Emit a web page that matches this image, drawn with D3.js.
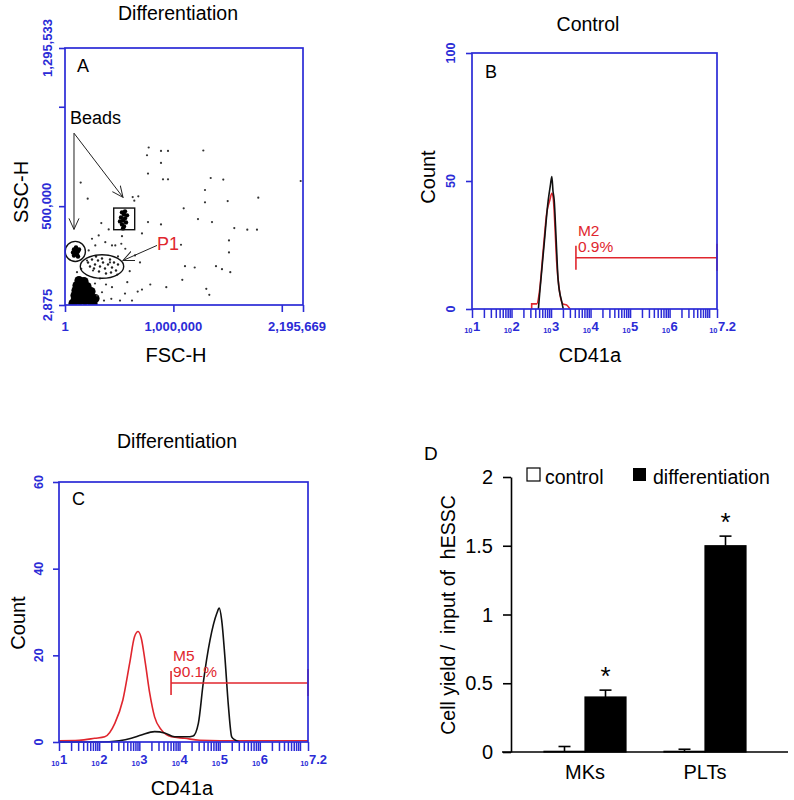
<!DOCTYPE html>
<html><head><meta charset="utf-8">
<script src="https://cdn.jsdelivr.net/npm/d3@7"></script>
<style>body{margin:0;background:#fff} text{font-family:"Liberation Sans",Arial,sans-serif}</style>
</head><body><svg id="c" width="794" height="800"></svg>
<script>
// ---------------- DATA ----------------
// Panel A: FSC-H / SSC-H scatter (data units)
const fscTicks = [1, 1000000, 2000000, 2195669];
const fscTickLabels = ["1", "1,000,000", "", "2,195,669"];
const sscTicks = [2875, 500000, 1000000, 1295533];
const sscTickLabels = ["2,875", "500,000", "", "1,295,533"];
const sparseEvents = [
 [1276000,780000],[1344100,641700],[1460300,633700],[1291500,581200],[1291500,519200],[1500900,525800],
 [1783200,542900],[1095000,489000],[1226900,435000],[1356100,419900],[1561800,389700],[1681700,381600],
 [1771200,381600],[1512900,327700],[1512900,267200],[1070100,306000],[1107000,198100],[1393000,198100],
 [1448300,183000],[1524900,167900],[1082100,129600],[1303500,84200],[1331200,53900],[2174300,626600],
 [772100,795000],[756500,756200],[885600,777800],[950200,777800],[885600,717300],[765700,663900],
 [904100,635200],[950200,635200],[144800,618500],[209400,537900],[624500,545900],[676200,549500],
 [639300,527800],[765700,419900],[885600,408300],[710300,363000],[334900,414900],[403100,383100],
 [1196500,191600],[934500,92300],[786900,105900],[710300,80700],[670700,70600],[574700,117500],
 [482500,156300],[596900,172900],[433600,92300],[427100,33800],[341300,67000],[279500,302500],
 [310900,352900],[371800,319100],[433600,302500],[464000,302500],[519400,311000],[556300,285800],
 [525800,349300],[249100,336200],[218600,277300],[203000,226800],[150400,185000],[110700,167900],
 [276800,110900],[322900,136100],[378200,105900],[295200,50400],[507400,25200],[553500,60500],
 [618100,25200],[359800,25200],[258300,176400],[415100,216800],[645800,252100],[691900,216800],[488900,247000]
];
const p1Events = [
 [212200,216800],[249100,231900],[276800,206700],[304400,226800],[322900,196600],[350600,216800],
 [369000,186500],[396700,206700],[415100,231900],[433600,191600],[452000,216800],[470500,176400],
 [313700,171400],[267500,186500],[378200,161300],[488900,206700],[230600,196600],[424400,166400],
 [341300,236900],[286000,247000]
];
const smallBeadEvents = [
 [83000,282300],[101500,277300],[119900,272200],[92300,262100],[110700,257100],[73800,267200],
 [129200,282300],[101500,292400],[83000,252100],[119900,247000]
];
const largeBeadEvents = [
 [525800,468800],[544300,458700],[516600,443600],[553500,438600],[535100,428500],[562700,418400],
 [525800,408300],[544300,398200],[572000,453700],[507400,423400],[553500,473900],[535100,388200]
];
const debrisEvents = [
 [92300,25200],[138400,25200],[184500,25200],[230600,25200],[92300,50400],[138400,50400],[184500,50400],
 [230600,45400],[101500,75600],[147600,75600],[193700,75600],[239900,70600],[110700,100800],[156800,100800],
 [203000,95800],[129200,126000],[175300,121000],[73800,10100],[258300,10100],[276800,35300]
];
// gates: circle [cx, cy, r], rect [x0,y0,x1,y1], ellipse [cx,cy,rx,ry]
const beadCircleGate = [95000, 272200, 93000];
const beadRectGate = [449300, 381600, 643000, 490500];
const p1EllipseGate = [341300, 196600, 200200, 59000];
const beadsLabel = ["Beads", 46000, 912400];
const beadsArrowFrom = [83000, 867100];
const beadsArrowTo = [[83000, 383100], [535100, 544400]];
const p1Label = ["P1", 848700, 277300];
const p1Arrow = [[848700, 302500], [535100, 226800]];

// Panels B & C: histograms, x = log10(CD41a intensity), y = count
const logExponents = [1, 2, 3, 4, 5, 6, 7.2];
const controlCountTicks = [0, 50, 100];
const diffCountTicks = [0, 20, 40, 60];
const controlIsotype = [[2.51,0],[2.51,2],[2.64,2],[2.70,6],[2.81,24.3],[2.89,37.4],[2.97,42.6],[3.02,45.2],[3.06,42.6],[3.10,32],[3.14,19],[3.21,7.4],[3.30,2],[3.40,1.5],[3.48,0]];
const controlStained = [[2.68,0],[2.72,7.4],[2.82,24.3],[2.93,42.6],[2.98,48],[3.02,51.7],[3.05,46],[3.08,42.6],[3.13,27],[3.18,11.3],[3.27,2.9],[3.31,0]];
const diffIsotype = [[1.0,0.3],[1.5,0.4],[1.89,0.85],[2.14,1.2],[2.39,4.3],[2.59,9.7],[2.76,18.2],[2.88,24.3],[2.97,25.5],[3.05,23.9],[3.15,18.2],[3.26,11.2],[3.38,5.8],[3.55,2.8],[3.80,1.2],[4.13,0.85],[4.5,0.4],[5.0,0.3],[6.0,0.3],[7.2,0.3]];
const diffStained = [[1.0,0],[2.0,0],[2.5,0.3],[2.80,0.85],[3.05,1.6],[3.38,2.4],[3.63,2.1],[3.88,1.2],[4.18,1.2],[4.34,1.4],[4.47,4.3],[4.59,13.5],[4.76,23.5],[4.93,29.7],[4.99,30.9],[5.05,28.2],[5.13,19.7],[5.22,8.1],[5.30,1.2],[5.38,0.5],[5.5,0]];
const controlMarker = ["M2", "0.9%", 3.63, 7.2, 20];
const diffMarker = ["M5", "90.1%", 3.79, 7.2, 13.6];

// Panel D: bar chart
const barCategories = ["MKs", "PLTs"];
const barSeries = ["control", "differentiation"];
const controlValues = [0.005, 0.005];
const controlErrors = [0.035, 0.015];
const differentiationValues = [0.40, 1.50];
const differentiationErrors = [0.05, 0.07];
const yieldTicks = [0, 0.5, 1, 1.5, 2];

// ---------------- DRAW ----------------
const svg = d3.select("#c");
const BLUE = "#2b2bd6", RED = "#e0262e";

function txt(x, y, s, size, opts = {}) {
  const t = svg.append("text").attr("x", x).attr("y", y).text(s)
    .attr("font-size", size).attr("fill", opts.fill || "#000")
    .attr("text-anchor", opts.anchor || "start");
  if (opts.bold) t.attr("font-weight", "bold");
  if (opts.rot) t.attr("transform", `rotate(-90,${x},${y})`);
  if (opts.db) t.attr("dominant-baseline", opts.db);
  return t;
}
function frame(x, y) {
  svg.append("rect").attr("x", x.range()[0]).attr("y", y.range()[1])
    .attr("width", x.range()[1] - x.range()[0]).attr("height", y.range()[0] - y.range()[1])
    .attr("fill", "none").attr("stroke", BLUE).attr("stroke-width", 1.7);
}
function leftTicks(y, x0, vals, labels, labelX, size) {
  const g = svg.append("g").attr("transform", `translate(${x0},0)`);
  g.call(d3.axisLeft(y).tickValues(vals).tickFormat("").tickSize(6).tickSizeOuter(0));
  g.select(".domain").remove();
  g.selectAll(".tick line").attr("stroke", BLUE).attr("stroke-width", 1.6);
  vals.forEach((v, i) => { if (labels[i] !== "") txt(labelX, y(v), labels[i], size, {fill: BLUE, bold: true, anchor: "middle", rot: true, db: "central"}); });
}
function logAxis(x, y0) {
  const g = svg.append("g").attr("transform", `translate(0,${y0})`);
  const tv = x.ticks().concat([x.domain()[1]]);
  g.call(d3.axisBottom(x).tickValues(tv).tickFormat("").tickSize(9).tickSizeOuter(0));
  g.select(".domain").remove();
  g.selectAll(".tick line").attr("stroke", BLUE).attr("stroke-width", 1.5);
  logExponents.forEach(e => {
    const px = x(Math.pow(10, e));
    txt(px + 0.5, y0 + 24, "10", 7.5, {fill: BLUE, bold: true, anchor: "end"});
    txt(px + 1, y0 + 22, String(e), 13, {fill: BLUE, bold: true});
  });
}
function marker(x, y, m) {
  const [n1, n2, e0, e1, c] = m;
  const xa = x(Math.pow(10, e0)), xb = x(Math.pow(10, e1)), yy = y(c);
  const g = svg.append("g").attr("stroke", RED).attr("stroke-width", 1.6);
  g.append("line").attr("x1", xa).attr("x2", xb).attr("y1", yy).attr("y2", yy);
  g.append("line").attr("x1", xa).attr("x2", xa).attr("y1", yy - 12).attr("y2", yy + 12);
  g.append("line").attr("x1", xb).attr("x2", xb).attr("y1", yy - 14).attr("y2", yy + 13);
  txt(xa + 2, yy - 22, n1, 15.5, {fill: RED});
  txt(xa + 2, yy - 6, n2, 15.5, {fill: RED});
}
function hist(x, y, data, color) {
  const line = d3.line().x(d => x(Math.pow(10, d[0]))).y(d => y(d[1])).curve(d3.curveMonotoneX);
  svg.append("path").datum(data).attr("d", line).attr("fill", "none").attr("stroke", color).attr("stroke-width", 1.6);
}

// ---- Panel A ----
const xA = d3.scaleLinear().domain([1, 2195669]).range([65, 303]);
const yA = d3.scaleLinear().domain([2875, 1295533]).range([305, 48]);
svg.append("defs").append("clipPath").attr("id", "clipA").append("rect")
  .attr("x", 65).attr("y", 48).attr("width", 238).attr("height", 257);
svg.select("defs").append("marker").attr("id", "arr").attr("viewBox", "0 0 12 12")
  .attr("refX", 11).attr("refY", 6).attr("markerWidth", 12).attr("markerHeight", 12)
  .attr("markerUnits", "userSpaceOnUse").attr("orient", "auto")
  .append("path").attr("d", "M0,1 L11,6 L0,11").attr("fill", "none").attr("stroke", "#222").attr("stroke-width", 1);
txt(178, 20, "Differentiation", 19.5, {anchor: "middle"});
const gA = svg.append("g").attr("clip-path", "url(#clipA)");
gA.selectAll(".deb").data(debrisEvents).join("circle").attr("cx", d => xA(d[0])).attr("cy", d => yA(d[1])).attr("r", 4.6).attr("fill", "#000");
gA.selectAll(".sp").data(sparseEvents).join("circle").attr("cx", d => xA(d[0])).attr("cy", d => yA(d[1])).attr("r", 1.1).attr("fill", "#333");
gA.selectAll(".p1").data(p1Events).join("circle").attr("cx", d => xA(d[0])).attr("cy", d => yA(d[1])).attr("r", 1.2).attr("fill", "#222");
gA.selectAll(".sb").data(smallBeadEvents).join("circle").attr("cx", d => xA(d[0])).attr("cy", d => yA(d[1])).attr("r", 2.2).attr("fill", "#000");
gA.selectAll(".lb").data(largeBeadEvents).join("circle").attr("cx", d => xA(d[0])).attr("cy", d => yA(d[1])).attr("r", 2.2).attr("fill", "#000");
// gates
svg.append("circle").attr("cx", xA(beadCircleGate[0])).attr("cy", yA(beadCircleGate[1]))
  .attr("r", xA(beadCircleGate[2]) - xA(0)).attr("fill", "none").attr("stroke", "#111").attr("stroke-width", 1.4);
svg.append("rect").attr("x", xA(beadRectGate[0])).attr("y", yA(beadRectGate[3]))
  .attr("width", xA(beadRectGate[2]) - xA(beadRectGate[0])).attr("height", yA(beadRectGate[1]) - yA(beadRectGate[3]))
  .attr("fill", "none").attr("stroke", "#111").attr("stroke-width", 1.4);
svg.append("ellipse").attr("cx", xA(p1EllipseGate[0])).attr("cy", yA(p1EllipseGate[1]))
  .attr("rx", xA(p1EllipseGate[2]) - xA(0)).attr("ry", yA(0) - yA(p1EllipseGate[3]))
  .attr("fill", "none").attr("stroke", "#111").attr("stroke-width", 1.4);
txt(xA(beadsLabel[1]), yA(beadsLabel[2]), beadsLabel[0], 18);
beadsArrowTo.forEach(t => svg.append("line").attr("x1", xA(beadsArrowFrom[0])).attr("y1", yA(beadsArrowFrom[1]))
  .attr("x2", xA(t[0])).attr("y2", yA(t[1])).attr("stroke", "#222").attr("stroke-width", 1).attr("marker-end", "url(#arr)"));
txt(xA(p1Label[1]), yA(p1Label[2]), p1Label[0], 18, {fill: RED});
svg.append("line").attr("x1", xA(p1Arrow[0][0])).attr("y1", yA(p1Arrow[0][1])).attr("x2", xA(p1Arrow[1][0])).attr("y2", yA(p1Arrow[1][1]))
  .attr("stroke", "#222").attr("stroke-width", 1).attr("marker-end", "url(#arr)");
frame(xA, yA);
leftTicks(yA, 65, sscTicks, sscTickLabels, 47, 13);
{
  const g = svg.append("g").attr("transform", "translate(0,305)");
  g.call(d3.axisBottom(xA).tickValues(fscTicks).tickFormat("").tickSize(7).tickSizeOuter(0));
  g.select(".domain").remove();
  g.selectAll(".tick line").attr("stroke", BLUE).attr("stroke-width", 1.6);
  fscTicks.forEach((v, i) => { if (fscTickLabels[i]) txt(v === fscTicks[3] ? xA(v) - 6 : xA(v), 331, fscTickLabels[i], 13, {fill: BLUE, bold: true, anchor: "middle"}); });
}
txt(28, 192, "SSC-H", 20, {anchor: "middle", rot: true, db: "auto"});
txt(176, 362, "FSC-H", 20, {anchor: "middle"});
txt(77, 72, "A", 18);

// ---- Panel B ----
const xB = d3.scaleLog().domain([10, Math.pow(10, 7.2)]).range([472, 717]);
const yB = d3.scaleLinear().domain([0, 100]).range([309, 53]);
txt(588, 31, "Control", 19.5, {anchor: "middle"});
hist(xB, yB, controlIsotype, RED);
hist(xB, yB, controlStained, "#111");
marker(xB, yB, controlMarker);
frame(xB, yB);
leftTicks(yB, 472, controlCountTicks, controlCountTicks.map(String), 451, 12.5);
logAxis(xB, 309);
txt(435, 177, "Count", 20, {anchor: "middle", rot: true});
txt(590, 362, "CD41a", 20, {anchor: "middle"});
txt(485, 78, "B", 18);

// ---- Panel C ----
const xC = d3.scaleLog().domain([10, Math.pow(10, 7.2)]).range([59, 308]);
const yC = d3.scaleLinear().domain([0, 60]).range([742, 482]);
txt(177, 448, "Differentiation", 19.5, {anchor: "middle"});
hist(xC, yC, diffIsotype, RED);
hist(xC, yC, diffStained, "#111");
marker(xC, yC, diffMarker);
frame(xC, yC);
leftTicks(yC, 59, diffCountTicks, diffCountTicks.map(String), 39, 12.5);
logAxis(xC, 742);
txt(25, 623, "Count", 20, {anchor: "middle", rot: true});
txt(182, 795, "CD41a", 20, {anchor: "middle"});
txt(72, 505, "C", 18);

// ---- Panel D ----
const x0 = d3.scalePoint().domain(barCategories).range([585, 705]);
const x1 = d3.scaleBand().domain(barSeries).range([-41, 41]);
const yD = d3.scaleLinear().domain([0, 2]).range([752, 477]);
const seriesData = {
  control: {vals: controlValues, errs: controlErrors, fill: "#fff"},
  differentiation: {vals: differentiationValues, errs: differentiationErrors, fill: "#000"}
};
barSeries.forEach(s => {
  const sd = seriesData[s];
  barCategories.forEach((c, i) => {
    const bx = x0(c) + x1(s), bw = x1.bandwidth(), cx = bx + bw / 2;
    const top = yD(sd.vals[i] + sd.errs[i]);
    svg.append("line").attr("x1", cx).attr("x2", cx).attr("y1", yD(sd.vals[i])).attr("y2", top).attr("stroke", "#000").attr("stroke-width", 1.6);
    svg.append("line").attr("x1", cx - 6).attr("x2", cx + 6).attr("y1", top).attr("y2", top).attr("stroke", "#000").attr("stroke-width", 1.6);
    svg.append("rect").attr("x", bx).attr("y", yD(sd.vals[i])).attr("width", bw)
      .attr("height", Math.max(0.5, yD(0) - yD(sd.vals[i]))).attr("fill", sd.fill).attr("stroke", "#000").attr("stroke-width", 1.2);
    if (s === "differentiation") txt(cx, top - 5, "*", 26, {anchor: "middle"});
  });
});
{
  const g = svg.append("g").attr("transform", "translate(511,0)");
  g.call(d3.axisLeft(yD).tickValues(yieldTicks).tickFormat("").tickSize(8).tickSizeOuter(0));
  g.select(".domain").attr("stroke", "#000").attr("stroke-width", 1.6);
  g.selectAll(".tick line").attr("stroke", "#000").attr("stroke-width", 1.6);
  yieldTicks.forEach(v => txt(493, yD(v), String(v), 20, {anchor: "end", db: "central"}));
  svg.append("line").attr("x1", 502).attr("x2", 788).attr("y1", yD(0)).attr("y2", yD(0)).attr("stroke", "#000").attr("stroke-width", 1.6);
  barCategories.forEach(c => txt(x0(c), 779, c, 20, {anchor: "middle"}));
}
txt(448, 615, "Cell yield /  input of  hESSC", 19.5, {anchor: "middle", rot: true, db: "central"}).attr("xml:space", "preserve").style("white-space", "pre");
txt(424, 460, "D", 19);
// legend
svg.append("rect").attr("x", 527).attr("y", 468).attr("width", 13).attr("height", 13).attr("fill", "#fff").attr("stroke", "#000").attr("stroke-width", 1.2);
txt(545, 484, "control", 19.5);
svg.append("rect").attr("x", 633).attr("y", 468).attr("width", 13).attr("height", 13).attr("fill", "#000");
txt(653, 484, "differentiation", 19.5);
</script></body></html>
